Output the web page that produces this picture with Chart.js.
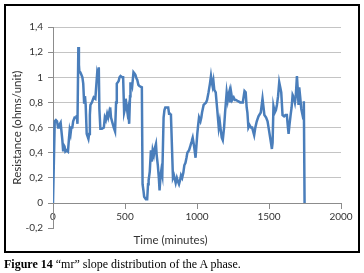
<!DOCTYPE html>
<html>
<head>
<meta charset="utf-8">
<script src="https://cdn.jsdelivr.net/npm/chart.js@4/dist/chart.umd.min.js"></script>
<style>
  html, body { margin: 0; padding: 0; background: #fff; width: 364px; height: 273px; overflow: hidden; }
  #wrap { position: absolute; left: 0; top: 0; width: 364px; height: 252px; }
  #box { position: absolute; left: 4px; top: 4px; width: 356px; height: 249px; box-sizing: border-box; border: 2px solid #000; pointer-events: none; }
  #caption { position: absolute; left: 4px; top: 257px; font-family: "Liberation Serif", serif; font-size: 12px; line-height: 14px; color: #000; white-space: nowrap; }
</style>
</head>
<body>
<div id="wrap"><canvas id="c" width="364" height="252"></canvas></div>
<div id="box"></div>
<div id="caption"><b>Figure 14</b> “mr” slope distribution of the A phase.</div>
<script>
const timeMinutes = [0,12,20,28,35,42,48,53,58,65,70,75,80,86,95,104,110,116,122,127,134,140,150,160,165,170,176,180,183,190,197,204,210,216,222,227,234,240,246,251,256,260,270,283,294,306,312,318,322,329,340,353,360,367,376,383,390,393,397,403,410,422,431,438,443,450,456,462,469,480,487,494,500,505,510,517,522,529,535,538,545,550,559,566,572,580,585,593,600,617,622,628,633,645,654,660,664,672,680,685,692,700,708,715,720,728,735,740,747,752,759,768,774,780,790,800,806,813,819,833,840,846,852,860,868,875,882,889,897,905,912,920,927,933,945,953,960,965,970,980,990,1002,1008,1014,1024,1030,1035,1046,1055,1063,1070,1080,1090,1097,1103,1108,1114,1120,1130,1140,1151,1158,1165,1172,1179,1188,1195,1206,1213,1218,1225,1230,1237,1245,1255,1263,1271,1285,1300,1318,1330,1338,1345,1350,1357,1365,1375,1383,1397,1405,1415,1427,1443,1455,1462,1468,1480,1490,1497,1508,1515,1520,1525,1531,1540,1548,1555,1563,1571,1578,1585,1594,1605,1615,1624,1630,1636,1642,1650,1657,1664,1672,1680,1686,1694,1700,1705,1710,1716,1724,1733,1738,1742,1747];
const resistance = [0,0.65,0.66,0.65,0.6,0.6,0.63,0.64,0.58,0.5,0.42,0.46,0.45,0.41,0.42,0.41,0.5,0.58,0.55,0.6,0.6,0.65,0.68,0.68,0.7,0.63,1.24,1.1,1.05,1.04,1.02,1.0,0.95,0.8,0.85,0.78,0.55,0.53,0.51,0.55,0.7,0.78,0.8,0.84,0.83,1.02,0.98,1.08,0.75,0.59,0.59,0.6,0.68,0.66,0.71,0.68,0.72,0.7,0.76,0.68,0.65,0.6,0.57,0.8,0.95,0.96,0.97,1.0,1.01,1.0,1.0,0.72,0.75,0.83,0.78,0.72,0.75,0.63,0.85,0.95,0.95,0.93,1.04,1.03,1.02,0.99,0.98,0.94,0.93,0.92,0.15,0.1,0.05,0.03,0.03,0.15,0.18,0.25,0.42,0.33,0.42,0.38,0.44,0.47,0.38,0.3,0.2,0.1,0.22,0.26,0.22,0.68,0.74,0.76,0.76,0.76,0.71,0.71,0.7,0.2,0.22,0.19,0.16,0.2,0.17,0.15,0.18,0.22,0.2,0.24,0.3,0.32,0.36,0.4,0.42,0.45,0.48,0.5,0.52,0.45,0.36,0.55,0.62,0.68,0.65,0.68,0.72,0.78,0.79,0.8,0.82,0.88,0.95,1.01,0.96,0.93,0.97,0.9,0.88,0.75,0.6,0.65,0.58,0.52,0.5,0.6,0.72,0.88,0.82,0.86,0.89,0.8,0.88,0.82,0.84,0.82,0.82,0.81,0.8,0.8,0.89,0.88,0.76,0.72,0.6,0.62,0.6,0.6,0.54,0.6,0.65,0.69,0.72,0.83,0.76,0.7,0.68,0.65,0.6,0.52,0.47,0.43,0.48,0.77,0.72,0.74,0.78,0.85,0.96,0.92,0.88,0.7,0.69,0.7,0.7,0.62,0.55,0.62,0.7,0.76,0.86,0.84,0.8,0.85,1.01,0.9,0.78,0.92,0.85,0.75,0.7,0.72,0.81,0];
const xTickLabels = ['0','500','1000','1500','2000'];
const yTickLabels = ['-0,2','0','0,2','0,4','0,6','0,8','1','1,2','1,4'];
const xTitle = 'Time (minutes)';
const yTitle = 'Resistance (ohms/unit)';

const points = timeMinutes.map((t, i) => ({ x: t, y: resistance[i] }));
const axisColor = '#8c8c8c';
const gridColor = '#c4c4c4';
const textColor = '#333333';
const fontFamily = 'Lato, "Liberation Sans", sans-serif';

new Chart(document.getElementById('c'), {
  type: 'line',
  data: {
    datasets: [{
      data: points,
      borderColor: '#4a7ebb',
      borderWidth: 2.5,
      pointRadius: 0,
      tension: 0,
      fill: false
    }]
  },
  options: {
    responsive: false,
    animation: false,
    events: [],
    layout: { padding: { left: 0, top: 27, right: 23, bottom: 0 } },
    plugins: {
      legend: { display: false },
      tooltip: { enabled: false },
      title: {
        display: true,
        position: 'bottom',
        text: xTitle,
        color: textColor,
        font: { family: fontFamily, size: 11.5, weight: 'normal' },
        padding: { top: 5, bottom: 5 }
      }
    },
    scales: {
      x: {
        type: 'linear',
        position: { y: 0 },
        min: 0,
        max: 2000,
        ticks: {
          stepSize: 500,
          color: textColor,
          font: { family: fontFamily, size: 10 },
          padding: 3,
          maxRotation: 0,
          callback: (v, i) => xTickLabels[i]
        },
        grid: { drawOnChartArea: false, drawTicks: true, tickLength: 5, tickColor: axisColor },
        border: { display: true, color: axisColor, width: 1 }
      },
      y: {
        type: 'linear',
        position: 'left',
        min: -0.2,
        max: 1.4,
        afterFit: (s) => { s.width = 53; },
        ticks: {
          stepSize: 0.2,
          color: textColor,
          font: { family: fontFamily, size: 10 },
          padding: 5,
          callback: (v, i) => yTickLabels[i]
        },
        grid: {
          color: (ctx) => (ctx.index === 0 ? 'rgba(0,0,0,0)' : gridColor),
          lineWidth: 1,
          drawTicks: true,
          tickLength: 5,
          tickColor: axisColor
        },
        border: { display: true, color: axisColor, width: 1 },
        title: {
          display: true,
          text: yTitle,
          color: textColor,
          font: { family: fontFamily, size: 11.5 },
          padding: { top: 10, bottom: 0 }
        }
      }
    }
  }
});
</script>
</body>
</html>
